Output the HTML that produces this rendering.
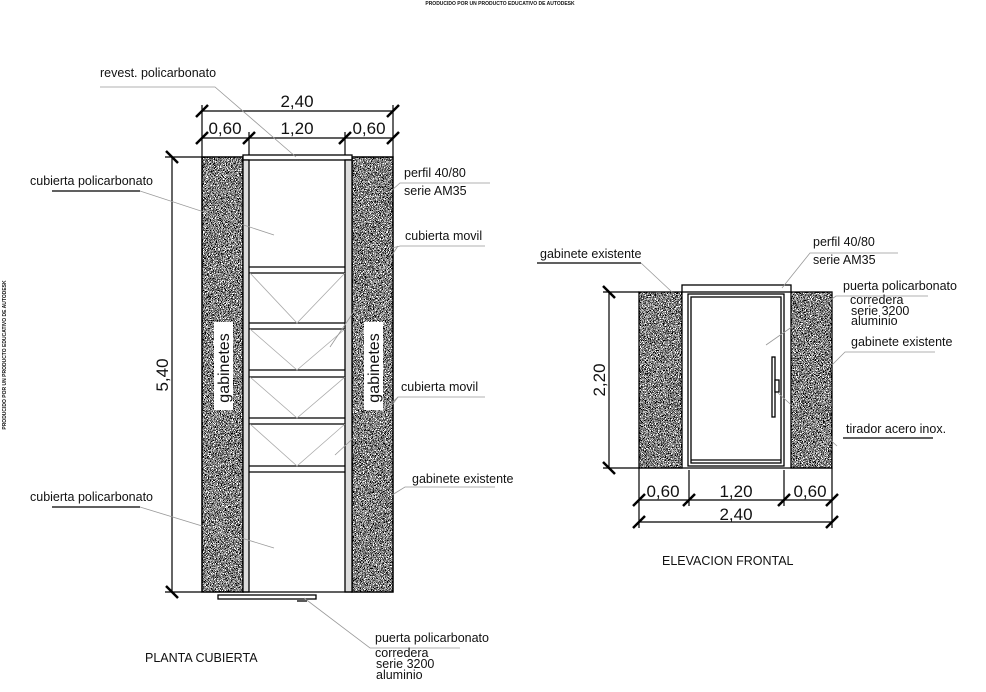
<!DOCTYPE html>
<html><head><meta charset="utf-8"><style>
html,body{margin:0;padding:0;background:#fff;width:986px;height:692px;overflow:hidden}
svg{display:block}
text{font-family:"Liberation Sans",sans-serif;fill:#111}
.l{font-size:12.5px}
.d{font-size:17px}
</style></head><body>
<svg width="986" height="692" viewBox="0 0 986 692" xmlns="http://www.w3.org/2000/svg">
<defs>
<filter id="n" x="0" y="0" width="100%" height="100%">
<feTurbulence type="fractalNoise" baseFrequency="1.4" numOctaves="1" seed="3" result="t"/>
<feColorMatrix in="t" type="matrix" values="0 0 0 0 0  0 0 0 0 0  0 0 0 0 0  1 0 0 0 0" result="a"/>
<feComponentTransfer in="a"><feFuncA type="discrete" tableValues="0 0 0 0 1 1 1 1"/></feComponentTransfer>
<feComposite in2="SourceGraphic" operator="in"/>
</filter>
</defs>
<text x="500" y="5" font-size="5" text-anchor="middle" font-weight="bold">PRODUCIDO POR UN PRODUCTO EDUCATIVO DE AUTODESK</text>
<text transform="translate(6,355) rotate(-90)" font-size="5" text-anchor="middle" font-weight="bold">PRODUCIDO POR UN PRODUCTO EDUCATIVO DE AUTODESK</text>

<!-- PLAN -->
<g stroke="#000" fill="none" stroke-width="1.3">
<rect x="202" y="157" width="41" height="435" fill="#fff"/>
<rect x="352" y="157" width="41" height="435" fill="#fff"/>
</g>
<rect x="202" y="157" width="41" height="435" fill="#000" filter="url(#n)"/>
<rect x="352" y="157" width="41" height="435" fill="#000" filter="url(#n)"/>
<g stroke="#000" fill="none" stroke-width="1.3">
<rect x="202" y="157" width="41" height="435"/>
<rect x="352" y="157" width="41" height="435"/>
<rect x="243" y="155" width="109" height="5" fill="#fff"/>
<rect x="243" y="160" width="6" height="432" fill="#ddd"/>
<rect x="345" y="160" width="7" height="432" fill="#ddd"/>
<line x1="249" y1="267" x2="345" y2="267"/><line x1="249" y1="273" x2="345" y2="273"/>
<line x1="249" y1="323" x2="345" y2="323"/><line x1="249" y1="329" x2="345" y2="329"/>
<line x1="249" y1="370" x2="345" y2="370"/><line x1="249" y1="377" x2="345" y2="377"/>
<line x1="249" y1="418" x2="345" y2="418"/><line x1="249" y1="424" x2="345" y2="424"/>
<line x1="249" y1="466" x2="345" y2="466"/><line x1="249" y1="472" x2="345" y2="472"/>
<line x1="243" y1="592" x2="352" y2="592"/>
<rect x="218" y="595" width="98" height="4" fill="#fff"/>
<line x1="297" y1="601" x2="307" y2="601"/>
</g>
<g stroke="#aaa" stroke-width="0.8" fill="none">
<polyline points="250,273 297,323 345,273"/>
<polyline points="250,329 297,370 345,329"/>
<polyline points="250,377 297,418 345,377"/>
<polyline points="250,424 297,466 345,424"/>
</g>
<rect x="214" y="322" width="19" height="88" fill="#fff"/>
<rect x="364" y="322" width="19" height="88" fill="#fff"/>
<text transform="translate(229,368) rotate(-90)" font-size="16" text-anchor="middle">gabinetes</text>
<text transform="translate(379,368) rotate(-90)" font-size="16" text-anchor="middle">gabinetes</text>

<!-- plan dims -->
<g stroke="#000" stroke-width="1.2" fill="none">
<line x1="202" y1="111" x2="393" y2="111"/>
<line x1="202" y1="138" x2="393" y2="138"/>
<line x1="202" y1="105" x2="202" y2="157"/>
<line x1="393" y1="105" x2="393" y2="157"/>
<line x1="249" y1="132" x2="249" y2="155"/>
<line x1="345" y1="132" x2="345" y2="155"/>
<line x1="172" y1="157" x2="172" y2="592"/>
<line x1="165" y1="157" x2="202" y2="157"/>
<line x1="165" y1="592" x2="202" y2="592"/>
</g>
<g stroke="#000" stroke-width="2.5">
<line x1="196" y1="117" x2="208" y2="105"/><line x1="387" y1="117" x2="399" y2="105"/>
<line x1="196" y1="144" x2="208" y2="132"/><line x1="243" y1="144" x2="255" y2="132"/>
<line x1="339" y1="144" x2="351" y2="132"/><line x1="387" y1="144" x2="399" y2="132"/>
<line x1="166" y1="151" x2="178" y2="163"/><line x1="166" y1="586" x2="178" y2="598"/>
</g>
<text x="297" y="107" class="d" text-anchor="middle">2,40</text>
<text x="225" y="134" class="d" text-anchor="middle">0,60</text>
<text x="297" y="134" class="d" text-anchor="middle">1,20</text>
<text x="369" y="134" class="d" text-anchor="middle">0,60</text>
<text transform="translate(168,375) rotate(-90)" class="d" text-anchor="middle">5,40</text>

<!-- plan labels -->
<g stroke="#999" stroke-width="0.8" fill="none">
<polyline points="296,157 215,87 100,87"/>
<polyline points="52,191 140,191 274,235"/>
<polyline points="52,507 140,507 274,548"/>
<polyline points="392,190 400,183 490,183"/>
<polyline points="392,248 400,246 485,246"/>
<polyline points="330,347 398,246"/>
<polyline points="392,405 398,397 485,397"/>
<polyline points="335,455 398,397"/>
<polyline points="392,495 405,487 495,487"/>
<polyline points="304,598 370,648 460,648"/>
</g>
<g stroke="#000" stroke-width="1.2"><line x1="52" y1="191" x2="140" y2="191"/><line x1="52" y1="507" x2="140" y2="507"/></g>
<text x="100" y="77" class="l">revest. policarbonato</text>
<text x="30" y="185" class="l">cubierta policarbonato</text>
<text x="30" y="501" class="l">cubierta policarbonato</text>
<text x="404" y="177" class="l">perfil 40/80</text>
<text x="404" y="195" class="l">serie AM35</text>
<text x="405" y="240" class="l">cubierta movil</text>
<text x="401" y="391" class="l">cubierta movil</text>
<text x="412" y="483" class="l">gabinete existente</text>
<text x="375" y="642" class="l">puerta policarbonato</text>
<text x="375" y="657" class="l">corredera</text>
<text x="376" y="668" class="l">serie 3200</text>
<text x="376" y="679" class="l">aluminio</text>
<text x="145" y="662" class="l">PLANTA CUBIERTA</text>

<!-- ELEVATION -->
<rect x="639" y="292" width="43" height="176" fill="#000" filter="url(#n)"/>
<rect x="791" y="292" width="41" height="176" fill="#000" filter="url(#n)"/>
<g stroke="#000" stroke-width="1.3" fill="none">
<rect x="639" y="292" width="43" height="176"/>
<rect x="791" y="292" width="41" height="176"/>
<rect x="682" y="285" width="109" height="7" fill="#fff"/>
<rect x="688" y="294" width="96" height="172" fill="#fff"/>
<rect x="691" y="297" width="90" height="166"/>
<line x1="691" y1="460" x2="781" y2="460"/>
<rect x="772" y="357" width="3" height="60" fill="#fff"/>
<rect x="775" y="380" width="4" height="12" fill="#fff"/>
<line x1="639" y1="468" x2="832" y2="468"/>
</g>
<g stroke="#000" stroke-width="1.2" fill="none">
<line x1="609" y1="292" x2="609" y2="468"/>
<line x1="603" y1="292" x2="639" y2="292"/>
<line x1="603" y1="468" x2="639" y2="468"/>
<line x1="639" y1="500" x2="832" y2="500"/>
<line x1="639" y1="522" x2="832" y2="522"/>
<line x1="639" y1="468" x2="639" y2="528"/>
<line x1="832" y1="468" x2="832" y2="528"/>
<line x1="689" y1="470" x2="689" y2="506"/>
<line x1="784" y1="470" x2="784" y2="506"/>
</g>
<g stroke="#000" stroke-width="2.5">
<line x1="603" y1="286" x2="615" y2="298"/><line x1="603" y1="462" x2="615" y2="474"/>
<line x1="633" y1="506" x2="645" y2="494"/><line x1="683" y1="506" x2="695" y2="494"/>
<line x1="778" y1="506" x2="790" y2="494"/><line x1="826" y1="506" x2="838" y2="494"/>
<line x1="633" y1="528" x2="645" y2="516"/><line x1="826" y1="528" x2="838" y2="516"/>
</g>
<text x="663" y="497" class="d" text-anchor="middle">0,60</text>
<text x="736" y="497" class="d" text-anchor="middle">1,20</text>
<text x="810" y="497" class="d" text-anchor="middle">0,60</text>
<text x="736" y="520" class="d" text-anchor="middle">2,40</text>
<text transform="translate(605,380) rotate(-90)" class="d" text-anchor="middle">2,20</text>

<g stroke="#999" stroke-width="0.8" fill="none">
<polyline points="641,263 672,292"/>
<polyline points="782,288 810,253 898,253"/>
<polyline points="766,345 836,296 928,296"/>
<polyline points="832,365 845,352 935,352"/>
<polyline points="778,393 837,446"/>
</g>
<g stroke="#000" stroke-width="1.2"><line x1="537" y1="263" x2="641" y2="263"/><line x1="843" y1="438" x2="933" y2="438"/></g>
<text x="540" y="258" class="l">gabinete existente</text>
<text x="813" y="246" class="l">perfil 40/80</text>
<text x="813" y="264" class="l">serie AM35</text>
<text x="843" y="290" class="l">puerta policarbonato</text>
<text x="850" y="304" class="l">corredera</text>
<text x="851" y="315" class="l">serie 3200</text>
<text x="851" y="325" class="l">aluminio</text>
<text x="851" y="346" class="l">gabinete existente</text>
<text x="846" y="433" class="l">tirador acero inox.</text>
<text x="662" y="565" class="l">ELEVACION FRONTAL</text>
</svg>
</body></html>
